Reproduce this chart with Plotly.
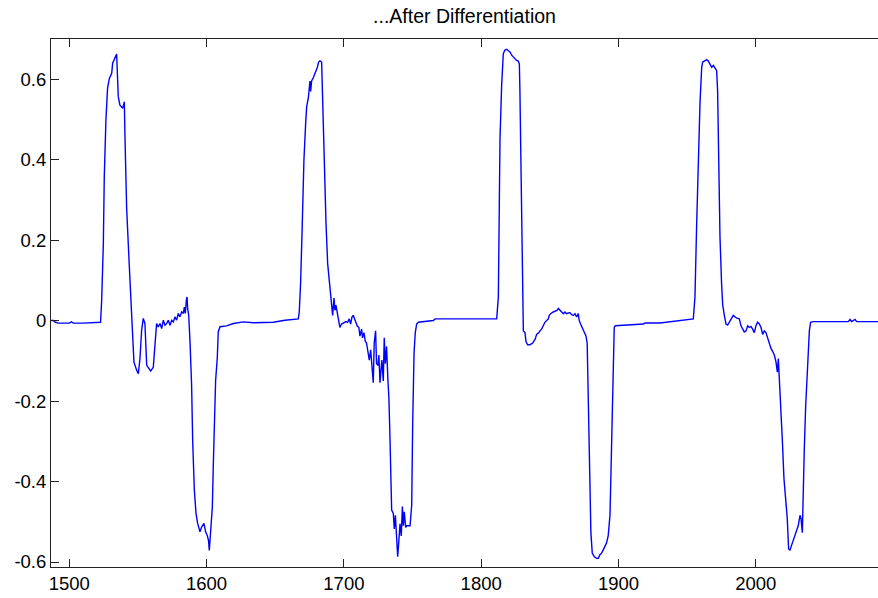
import plotly.graph_objects as go

# ---- data ----
x_lead = [1486.7, 1488, 1490, 1492, 1500, 1501.5, 1503, 1510, 1522.8]
y_lead = [0.0, 0.001, -0.004, -0.006, -0.006, -0.003, -0.006, -0.006, -0.004]

x_c1 = [1523.6, 1524.8, 1525.5, 1526.7, 1527.9, 1529.2, 1530.9, 1531.6, 1533.3, 1534.5,
        1535.7, 1536.9, 1538.9, 1540.1, 1540.6, 1541.8, 1543.7, 1544.7, 1545.9, 1547.1,
        1549.1, 1550.3, 1551.5, 1552.7, 1553.9, 1555.1, 1556.4, 1557.8, 1559.3, 1561.2,
        1562.4, 1563.6, 1564.8, 1566.1, 1567.3, 1568.5, 1569.7, 1570.9, 1572.1, 1573.4,
        1574.6, 1575.8, 1577.0, 1578.2, 1579.4, 1580.6, 1581.9, 1583.1, 1583.8, 1584.5,
        1585.3, 1585.8, 1586.2, 1587.0, 1588.0, 1589.1, 1589.9, 1591.1, 1592.3, 1593.5,
        1595.2, 1596.4, 1598.1, 1599.3, 1600.5, 1601.4, 1602.0, 1603.0, 1604.2, 1604.9,
        1606.1, 1606.6, 1607.8, 1608.5, 1609.8, 1614.6, 1619.5, 1626.8, 1634.0, 1648.6,
        1657.1, 1666.8]
y_c1 = [0.051, 0.188, 0.358, 0.499, 0.578, 0.6025, 0.615, 0.64, 0.652, 0.663,
        0.557, 0.536, 0.528, 0.544, 0.453, 0.279, 0.138, 0.055, -0.024, -0.103,
        -0.123, -0.132, -0.094, -0.024, 0.0055, -0.007, -0.111, -0.119, -0.125, -0.116,
        -0.065, -0.007, -0.0154, -0.007, -0.0195, 0.0012, -0.0112, -0.007, 0.0012, -0.0112,
        0.0012, -0.003, 0.0095, 0.0012, 0.018, 0.0095, 0.022, 0.018, 0.034, 0.018,
        0.051, 0.059, 0.030, 0.014, -0.057, -0.16, -0.301, -0.422, -0.479, -0.504,
        -0.525, -0.513, -0.504, -0.525, -0.534, -0.546, -0.571, -0.53, -0.463, -0.36,
        -0.223, -0.148, -0.093, -0.028, -0.015, -0.013, -0.007, -0.003, -0.005, -0.004,
        0.001, 0.0045]

x_c2 = [1667.5, 1668.5, 1669.7, 1670.9, 1672.2, 1672.9, 1674.1, 1675.3, 1675.8, 1676.5,
        1677.7, 1678.9, 1680.7, 1681.6, 1682.6, 1683.8, 1684.5, 1685.7, 1687.0, 1688.2,
        1689.4, 1690.4, 1691.1, 1691.8, 1692.8, 1693.5, 1694.2, 1695.2, 1696.2, 1697.1,
        1698.3, 1699.6, 1701.5, 1702.7, 1703.9, 1704.9, 1705.9, 1706.8, 1708.0, 1708.8,
        1709.7, 1710.9, 1711.7, 1712.9, 1713.6, 1714.6, 1715.6, 1716.5, 1717.5, 1718.5,
        1719.5, 1720.4, 1721.4, 1722.1, 1723.1, 1723.8, 1724.8, 1725.5, 1726.3, 1727.0,
        1727.7, 1728.7, 1729.4, 1730.2, 1731.1, 1732.1, 1732.8, 1733.6, 1734.8, 1736.0,
        1736.7, 1737.5, 1738.2, 1739.2, 1740.1, 1740.9, 1741.8, 1742.6, 1743.3, 1744.0,
        1745.0, 1745.7, 1748.2, 1749.4, 1750.1, 1751.1, 1752.0, 1753.0, 1754.2, 1757.9,
        1765.1, 1766.4, 1784.6]
y_c2 = [0.0216, 0.0945, 0.24, 0.399, 0.493, 0.532, 0.553, 0.596, 0.57, 0.596,
        0.604, 0.613, 0.630, 0.643, 0.646, 0.643, 0.540, 0.390, 0.24, 0.1418,
        0.0988, 0.0689, 0.0346, 0.0132, 0.056, 0.0259, 0.0388, 0.0174, -0.0083, -0.0169,
        -0.0083, -0.0066, -0.0023, -0.004, 0.0045, -0.0083, 0.009, 0.0132, 0.0003, -0.0083,
        -0.0127, -0.0169, -0.0383, -0.0211, -0.0426, -0.0296, -0.051, -0.0555, -0.081, -0.098,
        -0.0726, -0.111, -0.154, -0.0555, -0.0254, -0.107, -0.111, -0.0854, -0.154, -0.124,
        -0.098, -0.150, -0.0426, -0.107, -0.064, -0.150, -0.192, -0.295, -0.471, -0.479,
        -0.518, -0.484, -0.535, -0.587, -0.544, -0.505, -0.535, -0.462, -0.51, -0.475,
        -0.514, -0.51, -0.51, -0.458, -0.257, -0.081, -0.0296, -0.0083, -0.004, -0.0023,
        0.0003, 0.0045, 0.0045]

x_c3 = [1811.3, 1812.5, 1813.7, 1814.9, 1815.7, 1816.1, 1817.3, 1818.6, 1819.8, 1821.0,
        1822.2, 1823.4, 1824.6, 1825.8, 1827.0, 1827.8, 1828.2, 1829.0, 1829.9, 1830.7,
        1831.9, 1832.6, 1833.8, 1835.6, 1837.5, 1839.2, 1840.4, 1842.1, 1842.8, 1844.0,
        1845.2, 1846.4, 1847.7, 1848.9, 1849.6, 1850.6, 1852.5, 1854.5, 1855.4, 1856.2,
        1857.4, 1858.6, 1859.8, 1861.0, 1862.2, 1863.5, 1864.7, 1865.9, 1867.1, 1868.3,
        1869.5, 1870.7, 1871.4, 1872.4, 1873.6, 1874.8, 1876.3, 1877.2, 1878.0, 1878.7,
        1879.9, 1880.9, 1882.3, 1884.0, 1885.3, 1886.5, 1887.7, 1888.9, 1891.3, 1892.5,
        1893.8, 1894.5, 1895.5, 1896.2, 1896.9, 1897.7, 1905.9, 1910.8, 1918.1, 1919.3,
        1930.2]
y_c3 = [0.0045, 0.0592, 0.452, 0.585, 0.647, 0.664, 0.673, 0.6746, 0.671, 0.668,
        0.66, 0.6558, 0.6515, 0.647, 0.6455, 0.6386, 0.574, 0.386, 0.1716, -0.0254,
        -0.0296, -0.051, -0.0597, -0.0597, -0.0555, -0.0468, -0.034, -0.0296, -0.0254, -0.0211,
        -0.0127, -0.004, 0.0003, 0.0045, 0.0132, 0.0174, 0.0216, 0.0234, 0.0259, 0.0304,
        0.0259, 0.0216, 0.0174, 0.0216, 0.0174, 0.019, 0.0199, 0.0149, 0.0132, 0.0174,
        0.009, 0.0174, 0.0003, -0.0083, -0.0169, -0.0254, -0.038, -0.0555, -0.2097, -0.3896,
        -0.527, -0.578, -0.5866, -0.591, -0.591, -0.582, -0.578, -0.5697, -0.5525, -0.535,
        -0.484, -0.381, -0.201, -0.1154, -0.0169, -0.0127, -0.011, -0.011, -0.0083, -0.0058,
        -0.0058]

x_c4 = [1954.5, 1955.7, 1956.9, 1958.2, 1959.4, 1960.6, 1961.3, 1962.5, 1964.2, 1965.4,
        1966.6, 1967.9, 1969.1, 1970.3, 1971.5, 1972.2, 1973.0, 1973.9, 1975.1, 1975.9,
        1977.1, 1978.3, 1979.5, 1980.7, 1982.4, 1983.6, 1986.1, 1988.0, 1989.2, 1990.4,
        1991.6, 1992.9, 1994.1, 1995.3, 1996.5, 1997.7, 1998.9, 2000.1, 2001.3, 2002.6,
        2003.8, 2005.0, 2006.2, 2007.4, 2008.6, 2009.8, 2011.0, 2012.3, 2013.5, 2014.7,
        2015.7, 2016.4, 2017.1, 2018.1, 2019.3, 2020.5, 2021.7, 2022.9, 2023.9, 2024.9,
        2026.1, 2027.3, 2028.5, 2029.7, 2030.9, 2032.2, 2032.9, 2033.9, 2034.6, 2035.3,
        2036.3, 2037.0, 2038.0, 2039.0, 2039.9, 2041.9, 2067.4, 2068.6, 2069.8, 2072.3,
        2073.5, 2089.0]
y_c4 = [0.0045, 0.0592, 0.2359, 0.4287, 0.5446, 0.630, 0.643, 0.6455, 0.649, 0.6455,
        0.6386, 0.630, 0.6344, 0.6284, 0.6216, 0.5701, 0.403, 0.210, 0.0903, 0.0388,
        0.0132, -0.0083, -0.011, -0.004, 0.0045, 0.0132, 0.0062, 0.0045, -0.0127, -0.0211,
        -0.028, -0.0254, -0.0127, -0.0169, -0.0144, -0.0211, -0.0296, -0.0127, -0.004, -0.0083,
        -0.0169, -0.034, -0.0254, -0.0296, -0.0426, -0.0597, -0.0682, -0.0768, -0.0854, -0.1025,
        -0.1283, -0.094, -0.137, -0.2097, -0.2945, -0.392, -0.439, -0.491, -0.567, -0.571,
        -0.558, -0.545, -0.535, -0.52, -0.51, -0.484, -0.491, -0.527, -0.407, -0.321,
        -0.214, -0.154, -0.094, -0.0254, -0.004, -0.0023, -0.0023, 0.003, -0.0023, 0.003,
        -0.0023, -0.0023]

x_ticks = [1500, 1600, 1700, 1800, 1900, 2000]
y_ticks = [-0.6, -0.4, -0.2, 0, 0.2, 0.4, 0.6]
y_tick_text = ["-0.6", "-0.4", "-0.2", "0", "0.2", "0.4", "0.6"]
title_text = "...After Differentiation"

xs = x_lead + x_c1 + x_c2 + x_c3 + x_c4
ys = y_lead + y_c1 + y_c2 + y_c3 + y_c4

font_family = "Liberation Sans, Arial, sans-serif"

fig = go.Figure()
fig.add_trace(go.Scatter(x=xs, y=ys, mode="lines",
                         line=dict(color="#0000ff", width=1.4),
                         showlegend=False, hoverinfo="skip"))

fig.update_layout(
    width=878, height=598,
    margin=dict(l=51, r=0, t=39, b=31, pad=0),
    paper_bgcolor="white", plot_bgcolor="white",
    font=dict(family=font_family, size=18, color="black"),
    title=dict(text=title_text, x=0.5, xref="paper", y=1 - 16 / 598,
               yref="container", yanchor="middle", xanchor="center",
               font=dict(family=font_family, size=19.5, color="black")),
    xaxis=dict(range=[1486.7, 2089.0], tickvals=x_ticks,
               ticks="inside", ticklen=8, tickcolor="#222222", tickwidth=1,
               showline=True, linecolor="#222222", linewidth=1, mirror="ticks",
               showgrid=False, zeroline=False,
               tickfont=dict(family=font_family, size=18.5, color="black")),
    yaxis=dict(range=[-0.6124, 0.7003], tickvals=y_ticks, ticktext=y_tick_text,
               ticks="inside", ticklen=8, tickcolor="#222222", tickwidth=1,
               showline=True, linecolor="#222222", linewidth=1, mirror=False,
               showgrid=False, zeroline=False,
               tickfont=dict(family=font_family, size=18.5, color="black")),
)

fig.write_html("out.html")
